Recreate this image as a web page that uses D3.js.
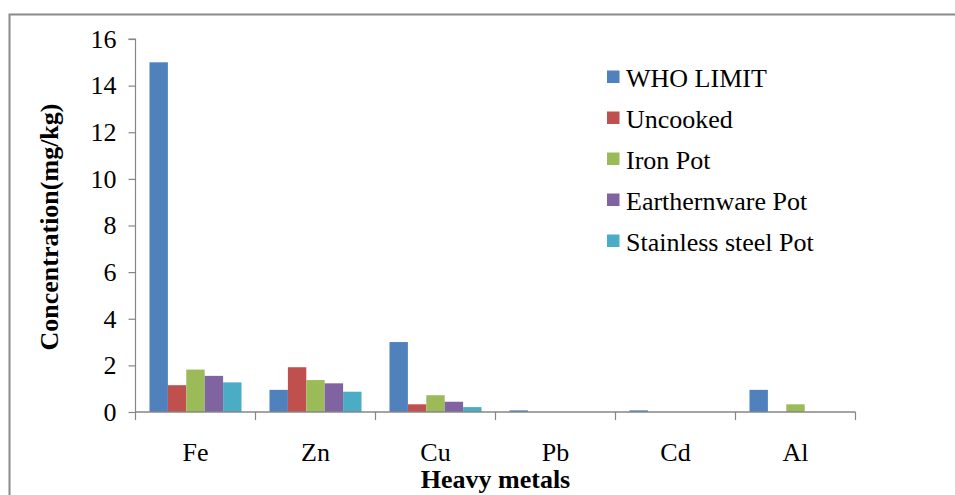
<!DOCTYPE html>
<html>
<head>
<meta charset="utf-8">
<script src="https://cdn.jsdelivr.net/npm/d3@7"></script>
<style>
  html, body { margin: 0; padding: 0; background: #fff; }
  svg { display: block; }
</style>
</head>
<body>
<svg id="chart" width="955" height="495"></svg>
<script>
// Heavy metal concentrations (mg/kg) by cooking vessel
const metals = ["Fe", "Zn", "Cu", "Pb", "Cd", "Al"];
const seriesNames = ["WHO LIMIT", "Uncooked", "Iron Pot", "Earthernware Pot", "Stainless steel Pot"];
const whoLimit     = [15, 0.95, 3, 0.07, 0.07, 0.95];
const uncooked     = [1.15, 1.92, 0.33, 0, 0, 0];
const ironPot      = [1.82, 1.37, 0.72, 0, 0, 0.33];
const earthenPot   = [1.55, 1.23, 0.44, 0, 0, 0];
const stainlessPot = [1.27, 0.87, 0.21, 0, 0, 0];
const yTicks = [0, 2, 4, 6, 8, 10, 12, 14, 16];
const colors = ["#4F81BD", "#C0504D", "#9BBB59", "#8064A2", "#4BACC6"];

const seriesValues = [whoLimit, uncooked, ironPot, earthenPot, stainlessPot];

const serif = "'Liberation Serif', 'Times New Roman', 'DejaVu Serif', serif";
const fontSize = "26px";
const svg = d3.select("#chart");
const axisColor = "#868686";

// chart frame
svg.append("path")
  .attr("d", "M9.5,495 L9.5,14.5 L955,14.5")
  .attr("fill", "none")
  .attr("stroke", "#8a8a8a")
  .attr("stroke-width", 2);

const plot = { left: 135.5, right: 855.5, top: 39, bottom: 412 };

const x = d3.scaleBand().domain(metals).range([plot.left, plot.right]).padding(0);
const xInner = d3.scaleBand().domain(seriesNames)
  .range([0, x.bandwidth()]).paddingOuter(0.76).paddingInner(0);
const y = d3.scaleLinear().domain([0, 16]).range([plot.bottom, plot.top]);

// bars
const groups = svg.append("g").selectAll("g")
  .data(metals)
  .join("g")
  .attr("transform", d => `translate(${x(d)},0)`);

groups.selectAll("rect")
  .data((m, i) => seriesNames.map((s, k) => ({ s, k, v: seriesValues[k][i] })))
  .join("rect")
  .filter(d => d.v > 0)
  .attr("x", d => xInner(d.s))
  .attr("width", xInner.bandwidth())
  .attr("y", d => y(d.v))
  .attr("height", d => y(0) - y(d.v))
  .attr("fill", d => colors[d.k]);

// y axis
const yAxis = d3.axisLeft(y).tickValues(yTicks).tickSize(7).tickPadding(12).tickFormat(d3.format("d"));
const gy = svg.append("g").attr("transform", `translate(${plot.left},0)`).call(yAxis)
  .attr("font-family", null).attr("font-size", null);
gy.select(".domain").attr("stroke", axisColor).attr("stroke-width", 1.2)
  .attr("d", `M-7,${plot.top}H0V${plot.bottom}`);
gy.selectAll(".tick line").attr("stroke", axisColor).attr("stroke-width", 1.2);
gy.selectAll(".tick text")
  .style("font-family", serif)
  .style("font-size", fontSize)
  .attr("fill", "#000");

// x axis: category boundary ticks below the baseline
const boundaries = metals.map(m => x(m)).concat([plot.right]);
svg.append("line")
  .attr("x1", plot.left).attr("x2", plot.right)
  .attr("y1", plot.bottom).attr("y2", plot.bottom)
  .attr("stroke", axisColor).attr("stroke-width", 1.5);
svg.append("g").selectAll("line")
  .data(boundaries)
  .join("line")
  .attr("x1", d => d).attr("x2", d => d)
  .attr("y1", plot.bottom).attr("y2", plot.bottom + 8)
  .attr("stroke", axisColor).attr("stroke-width", 1.2);
svg.append("g").selectAll("text")
  .data(metals)
  .join("text")
  .attr("x", d => x(d) + x.bandwidth() / 2)
  .attr("y", 461)
  .attr("text-anchor", "middle")
  .style("font-family", serif)
  .style("font-size", fontSize)
  .text(d => d);

// axis titles
svg.append("text")
  .attr("x", (plot.left + plot.right) / 2)
  .attr("y", 488)
  .attr("text-anchor", "middle")
  .style("font-family", serif)
  .style("font-size", fontSize)
  .style("font-weight", "bold")
  .text("Heavy metals");

svg.append("text")
  .attr("transform", `translate(58,227) rotate(-90)`)
  .attr("text-anchor", "middle")
  .style("font-family", serif)
  .style("font-size", fontSize)
  .style("font-weight", "bold")
  .text("Concentration(mg/kg)");

// legend
const legend = svg.append("g").selectAll("g")
  .data(seriesNames)
  .join("g")
  .attr("transform", (d, i) => `translate(607,${77 + i * 41})`);
legend.append("rect")
  .attr("x", 0).attr("y", -6.5)
  .attr("width", 12.5).attr("height", 12.5)
  .attr("fill", (d, i) => colors[i]);
legend.append("text")
  .attr("x", 19).attr("y", 9.5)
  .style("font-family", serif)
  .style("font-size", fontSize)
  .text(d => d);
</script>
</body>
</html>
